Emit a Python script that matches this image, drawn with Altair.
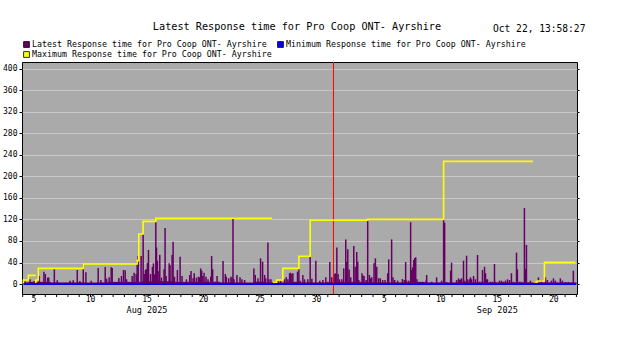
import altair as alt
import pandas as pd

# ---------------- data (x = day number counted from Aug 0, Sep 1 = 32) ----------------
spike_t = [4.70, 5.15, 5.50, 5.97, 6.38, 6.50, 6.71, 6.80, 7.30, 7.56, 8.68, 8.97, 9.33, 9.56,
           9.86, 10.09, 10.56, 11.18, 11.42, 11.80, 11.92, 12.15, 12.33, 12.42, 13.01, 13.24,
           13.42, 13.57, 13.69, 14.19, 14.36, 14.54, 14.63, 14.72, 14.98, 15.16, 15.25, 15.36,
           15.45, 15.54, 15.63, 15.81, 15.98, 16.07, 16.16, 16.28, 16.34, 16.42, 16.48, 16.63,
           16.78, 17.01, 17.10, 17.19, 17.46, 17.54, 17.72, 17.81, 17.93, 18.19, 18.43, 18.60,
           18.99, 19.28, 19.40, 19.58, 19.68, 19.87, 20.05, 20.13, 20.25, 20.34, 20.43, 20.55,
           20.72, 20.90, 21.14, 21.22, 21.31, 21.70, 22.23, 22.43, 22.52, 22.73, 22.93, 23.02,
           23.11, 23.20, 23.46, 23.73, 23.90, 24.14, 24.96, 25.08, 25.32, 25.55, 25.73, 25.91,
           26.00, 26.20, 26.29, 26.47, 27.09, 27.32, 27.67, 27.82, 27.97, 28.12, 28.20, 28.32,
           28.41, 28.82, 28.94, 29.06, 29.29, 29.44, 29.73, 29.94, 30.09, 30.44, 30.79, 31.06,
           31.32, 31.50, 31.68, 31.85, 32.06, 32.18, 32.30, 32.41, 32.53, 32.74, 32.91, 33.09,
           33.18, 33.27, 33.39, 33.53, 33.80, 33.92, 34.06, 34.15, 34.24, 34.36, 34.53, 34.62,
           34.71, 34.89, 35.03, 35.18, 35.27, 35.39, 35.59, 35.71, 35.83, 36.01, 36.15, 36.36,
           36.57, 36.80, 36.89, 37.15, 37.27, 37.42, 37.68, 38.10, 38.27, 38.39, 38.48, 38.66,
           38.83, 38.92, 39.01, 39.10, 39.19, 39.28, 39.39, 39.66, 40.01, 40.19, 40.25, 40.69,
           41.13, 41.57, 41.75, 41.84, 42.01, 42.37, 42.45, 42.90, 43.07, 43.16, 43.25, 43.34,
           43.51, 43.60, 43.78, 43.87, 44.04, 44.13, 44.22, 44.40, 44.57, 44.75, 44.93, 45.10,
           45.19, 45.37, 45.46, 45.55, 45.63, 45.90, 46.08, 46.25, 46.34, 46.69, 46.87, 47.05,
           47.22, 47.40, 47.58, 47.75, 47.93, 48.20, 48.28, 48.46, 48.64, 48.90, 48.99, 49.08,
           49.26, 49.43, 49.87, 50.14, 50.41, 50.76, 50.93, 51.29, 51.47, 51.64, 52.08, 52.26,
           52.53, 52.79, 53.03, 53.23]
spike_v = [5, 8.7, 5, 15, 23, 18.6, 12, 12, 28.5, 7, 6, 7, 26, 5.6,
           37, 21.7, 6, 30, 7.4, 31.6, 10, 12.4, 31, 29.8, 11, 15,
           26, 25.4, 8.7, 15, 21, 18.6, 42.8, 52, 52, 92.4, 18.6, 26,
           27.9, 39, 63.3, 18.6, 32, 38.4, 18, 116, 68, 43.4, 24, 54.6,
           11.8, 27.3, 104, 14.9, 38.4, 35, 54, 78.8, 13.6, 26, 50.8, 14.9,
           8.7, 16.7, 24, 10.5, 20, 11.8, 13.6, 12.4, 29, 24.8, 14.9, 21,
           13.6, 8.7, 13.6, 52, 27.3, 14.9, 42.8, 18.6, 13.6, 10.5, 13.6, 11.8,
           122, 8.7, 16.7, 12.4, 8.7, 7.4, 29, 16.7, 10.5, 47.8, 41.5, 16.7,
           10.5, 77, 8.7, 8.7, 5.6, 6.2, 8.7, 12.4, 8.7, 20, 21, 18.6,
           20, 23, 27.3, 6.2, 16.7, 8.7, 8.7, 51, 9.9, 43.4, 6.2, 7.4,
           12.4, 4.3, 41, 12.4, 18.6, 20, 68, 18.6, 8.7, 8.7, 29, 83,
           41.5, 64.5, 27, 12.4, 70.7, 32, 59.5, 41.5, 7.4, 4.3, 20, 16,
           14.9, 7.4, 118, 16.7, 10.5, 12.4, 38.4, 47.8, 32, 10.5, 10.5, 7.4,
           7.4, 20, 46, 83, 12.4, 7.4, 6.2, 9.3, 7.4, 41, 6.2, 6.2,
           115, 26, 31, 44.7, 48.4, 49.6, 8.7, 2.5, 3.7, 6.2, 16.7, 4.3,
           12.4, 6.2, 120, 114, 3.7, 24.8, 39.7, 7.4, 10.5, 7.4, 8.7, 10.5,
           43.4, 6.2, 52.7, 8.7, 8.7, 12.4, 8.7, 14.9, 8.7, 54, 4.3, 4.3,
           26, 32, 20, 8.7, 8.7, 4.3, 4.3, 37.2, 4.3, 6.2, 6.2, 4.3,
           6.2, 8.7, 7.4, 20, 4.3, 58.3, 27.3, 4.3, 4.3, 141.4, 28, 72.6,
           2.5, 6.2, 3.7, 12.4, 7.4, 12.4, 7.4, 6.2, 10.5, 6.2, 10.5, 6.2,
           3.7, 3.7, 2.5, 24.8]

base_t = [4.56] + list(range(5, 54))
base_v = [3, 4, 4, 3, 3, 3, 3, 3, 4, 4,
          4, 5, 5, 5, 4, 4, 4, 4, 3, 3,
          3, 4, 3, 3, 4, 3, 3, 3, 4, 4,
          3, 3, 3, 3, 3, 4, 3, 3, 3, 4,
          3, 3, 3, 3, 3, 3, 3, 3, 3, 3]
base_end = 53.5

max_seg = ["A"] * 4 + ["B"] * 9 + ["C"] * 9 + ["D"] * 6
max_t = [4.555, 4.56, 5.0, 5.65,
         5.65, 5.66, 5.88, 9.855, 14.625, 14.775, 15.155, 16.28, 26.55,
         26.55, 26.73, 26.97, 27.52, 28.94, 29.94, 35.03, 41.75, 49.67,
         49.67, 49.76, 49.93, 50.05, 50.67, 53.4]
max_v = [0, 7.4, 16.1, 16.1,
         0, 7.4, 29.1, 37.2, 43.4, 93, 116.6, 122.2, 122.2,
         0, 2.5, 7.4, 29.1, 51.5, 118.5, 120.3, 228.2, 228.2,
         0, 1.2, 3.7, 5.6, 40.3, 40.3]

min_t = [4.56, 53.5]
min_v = [0, 0]

month_boundary = [32]
month_labels = ["Aug 2025", "Sep 2025"]
month_t = [15.5, 46.5]

day_tick_t = [x + 0.5 for x in range(4, 54)]
day_tick_label = [str((x - 1) % 31 + 1) if ((x - 1) % 31 + 1) % 5 == 0 else "" for x in range(4, 54)]

title_text = "Latest Response time for Pro Coop ONT- Ayrshire"
stamp_text = "Oct 22, 13:58:27"
legend_labels = ["Latest Response time for Pro Coop ONT- Ayrshire",
                 "Minimum Response time for Pro Coop ONT- Ayrshire",
                 "Maximum Response time for Pro Coop ONT- Ayrshire"]
colors = ["#660066", "#0000ff", "#ffff00"]
y_ticks = [0, 40, 80, 120, 160, 200, 240, 280, 320, 360, 400]

# ---------------- tables ----------------
spikes = pd.DataFrame({"t": spike_t, "v": spike_v})
base = pd.DataFrame({"t": base_t, "t1": base_t[1:] + [base_end], "v": base_v})
mx = pd.DataFrame({"seg": max_seg, "t": max_t, "v": max_v, "i": list(range(len(max_t)))})
mn = pd.DataFrame({"t": min_t, "v": min_v})
bound = pd.DataFrame({"t": month_boundary})
months = pd.DataFrame({"t": month_t, "label": month_labels})
days = pd.DataFrame({"t": day_tick_t, "label": day_tick_label})

FONT = "DejaVu Sans Mono"
xs = alt.Scale(domain=[4.438, 53.553], nice=False, zero=False)
ys = alt.Scale(domain=[-18.6, 413], nice=False, zero=False)

y_axis = alt.Axis(values=y_ticks, grid=True, gridColor="#c8c8c8", domain=False,
                  tickSize=3, tickColor="black", labelFont=FONT, labelFontSize=8,
                  labelColor="black", labelPadding=2, title=None)
y_axis_r = alt.Axis(values=y_ticks, orient="right", grid=False, domain=False,
                    tickSize=2, tickColor="black", labels=False, title=None)

X = lambda f="t:Q": alt.X(f, scale=xs, axis=None)

base_layer = alt.Chart(base).mark_rect(color=colors[0]).encode(
    x=X(), x2="t1:Q",
    y=alt.Y("v:Q", scale=ys, axis=y_axis),
    y2=alt.datum(0),
)

spike_layer = alt.Chart(spikes).mark_rule(color=colors[0], strokeWidth=1.5).encode(
    x=X(), y=alt.Y("v:Q", scale=ys, axis=None), y2=alt.datum(0),
)

bound_layer = alt.Chart(bound).mark_rule(color="#ff0000", strokeWidth=1).encode(x=X())

max_layer = alt.Chart(mx).mark_line(interpolate="step-after", color=colors[2],
                                    strokeWidth=1.6).encode(
    x=X(), y=alt.Y("v:Q", scale=ys, axis=None), detail="seg:N", order="i:Q",
)

min_layer = alt.Chart(mn).mark_line(color=colors[1], strokeWidth=2).encode(
    x=X(), y=alt.Y("v:Q", scale=ys, axis=y_axis_r),
)

# day ticks and labels below the plot (x axis)
tick_layer = alt.Chart(days).mark_rule(color="black", strokeWidth=1).encode(
    x=X(), y=alt.value(232), y2=alt.value(235),
)
day_label_layer = alt.Chart(days).mark_text(font=FONT, fontSize=8, color="black",
                                            baseline="top", align="center").encode(
    x=X(), y=alt.value(233.5), text="label:N",
)

month_layer = alt.Chart(months).mark_text(font=FONT, fontSize=8.5, color="black",
                                          baseline="middle", align="center").encode(
    x=X(), y=alt.value(247.5), text="label:N",
)

def txt(s, x, y, size, align="left"):
    return alt.Chart(pd.DataFrame({"s": [s]})).mark_text(
        font=FONT, fontSize=size, color="black", align=align, baseline="middle"
    ).encode(x=alt.value(x), y=alt.value(y), text="s:N")

def sq(c, x, y):
    return alt.Chart(pd.DataFrame({"c": [c]})).mark_square(
        size=34, fill=c, stroke="black", strokeWidth=0.8, opacity=1
    ).encode(x=alt.value(x), y=alt.value(y))

title_layer = txt(title_text, 275, -35, 10.2, "center")
stamp_layer = txt(stamp_text, 471, -33, 9.6)
leg = [
    sq(colors[0], 4.5, -17.5), txt(legend_labels[0], 10, -17.5, 8.3),
    sq(colors[1], 258.5, -17.5), txt(legend_labels[1], 264, -17.5, 8.3),
    sq(colors[2], 4.5, -7.5), txt(legend_labels[2], 10, -7.5, 8.3),
]

chart = alt.layer(
    base_layer, spike_layer, bound_layer, max_layer, min_layer,
    tick_layer, day_label_layer, month_layer,
    title_layer, stamp_layer, *leg
).resolve_axis(y="independent").properties(
    width=555, height=232,
    padding={"left": 22, "top": 62, "right": 49, "bottom": 59},
    autosize=alt.AutoSizeParams(type="none"),
    background="white",
).configure_view(stroke="black", strokeWidth=1, fill="#aaaaaa")

chart.save("out.html", embed_options={"renderer": "svg", "actions": False})
